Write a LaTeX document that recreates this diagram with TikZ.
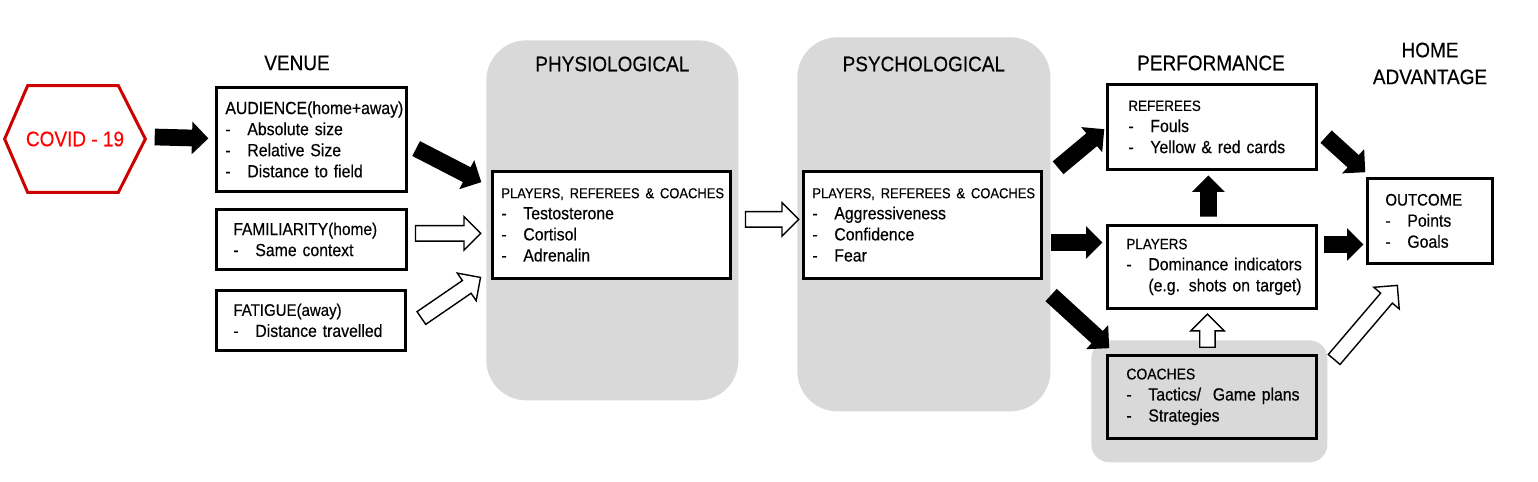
\documentclass[tikz,border=0pt]{standalone}
\usepackage{fontspec}
\setmainfont{Liberation Sans}[FakeStretch=0.9,FakeBold=0.35]
\usetikzlibrary{arrows.meta,calc,positioning,shapes.arrows}

\definecolor{panelgray}{HTML}{D9D9D9}
\definecolor{virusred}{HTML}{CC0000}
\def\pxu{0.02cm}
% list line and small box title
\newcommand\li[1]{\\\mbox{\makebox[12.5pt][l]{-}#1}}
\newcommand\ttl[2][8.5]{\mbox{\fontsize{#1}{12}\selectfont #2}}
% block arrow from tail #2 to tip #3
\newcommand\fatarrow[3]{%
 \path let \p1=#2,\p2=#3,\n1={atan2(\y2-\y1,\x2-\x1)},\n2={veclen(\x2-\x1,\y2-\y1)} in
  node[#1,rotate=\n1,minimum height=\n2] at (\p1) {};}

\begin{document}
\begin{tikzpicture}[x=\pxu,y=-\pxu,
 stage/.style={draw,line width=1.6pt,fill=white,anchor=north west,align=left,inner ysep=0pt,font=\fontsize{10}{12}\selectfont},
 panel/.style={fill=panelgray,anchor=north west,inner sep=0pt,rounded corners=.8cm},
 heading/.style={align=center,font=\fontsize{12}{15.3}\selectfont},
 blackarrow/.style={single arrow,fill=black,anchor=tail,inner xsep=0pt,inner ysep=8*\pxu,single arrow head extend=8*\pxu},
 whitearrow/.style={blackarrow,fill=white,draw,line width=.8pt,inner ysep=7*\pxu,single arrow head extend=9*\pxu}]
\useasboundingbox (0,0) rectangle (1538,482);

% trigger
\node[minimum width=140*\pxu,minimum height=106*\pxu,text=red,font=\fontsize{12}{14}\selectfont] (covid) at (75,139) {COVID - 19};
\draw[virusred,line width=1.7pt] (covid.west) -- ($(covid.north west)+(23,0)$) -- ($(covid.north east)+(-27,0)$)
 -- (covid.east) -- ($(covid.south east)+(-27,0)$) -- ($(covid.south west)+(23,0)$) -- cycle;

% venue
\node[heading] (venuehd) at (297,63) {VENUE};
\node[stage,text width=172*\pxu,inner xsep=9*\pxu,minimum height=104*\pxu] (aud) at (215,86)
 {\ttl[10]{AUDIENCE(home+away)}\li{Absolute size}\li{Relative Size}\li{Distance to field}};
\node[stage,text width=156*\pxu,inner xsep=17*\pxu,minimum height=60*\pxu] (fam) at (215,208)
 {\ttl[9.8]{FAMILIARITY(home)}\li{Same context}};
\node[stage,text width=155*\pxu,inner xsep=17*\pxu,minimum height=60*\pxu] (fat) at (215,289)
 {\ttl[9.5]{FATIGUE(away)}\li{Distance travelled}};

% mechanisms
\node[panel,minimum width=252*\pxu,minimum height=360*\pxu] (physpanel) at (486,40) {};
\node[heading] (physhd) at ($(physpanel.north)+(0,24)$) {PHYSIOLOGICAL};
\node[stage,text width=220*\pxu,inner xsep=9*\pxu,minimum height=107*\pxu] (phys) at (491,170)
 {\ttl[8.2]{PLAYERS, REFEREES \& COACHES}\li{Testosterone}\li{Cortisol}\li{Adrenalin}};

\node[panel,minimum width=253*\pxu,minimum height=374*\pxu] (psychpanel) at (797,37) {};
\node[heading] (psychhd) at ($(psychpanel.north)+(0,27)$) {PSYCHOLOGICAL};
\node[stage,text width=220*\pxu,inner xsep=9*\pxu,minimum height=107*\pxu] (psych) at (802,170)
 {\ttl[8.2]{PLAYERS, REFEREES \& COACHES}\li{Aggressiveness}\li{Confidence}\li{Fear}};

% performance
\node[heading] (perfhd) at (1211,63) {PERFORMANCE};
\node[stage,text width=167*\pxu,inner xsep=21*\pxu,minimum height=85*\pxu] (ref) at (1106,83)
 {\ttl{REFEREES}\li{Fouls}\li{Yellow \& red cards}};
\node[stage,text width=171*\pxu,inner xsep=19*\pxu,minimum height=83*\pxu] (ply) at (1106,224)
 {\ttl{PLAYERS}\li{Dominance indicators}\\\mbox{\hspace*{12.5pt}(e.g. shots on target)}};
\node[panel,rounded corners=.36cm,minimum width=236*\pxu,minimum height=122*\pxu] (coachpanel) at (1091,340) {};
\node[stage,fill=panelgray,text width=171*\pxu,inner xsep=19*\pxu,minimum height=83*\pxu] (coach) at (1106,354)
 {\ttl[8.8]{COACHES}\li{Tactics/\ \ Game plans}\li{Strategies}};

% outcome
\node[heading] (homehd) at (1430,63.5) {HOME\\ADVANTAGE};
\node[stage,text width=89*\pxu,inner xsep=18*\pxu,minimum height=85*\pxu] (out) at (1366,177)
 {\ttl[9.5]{OUTCOME}\li{Points}\li{Goals}};

% arrows
\fatarrow{blackarrow}{($(covid.east)+(9,-2)$)}{($(aud.west)+(-7,-1)$)}
\fatarrow{blackarrow}{($(aud.east)+(8,9)$)}{($(phys.north west)+(-10,12)$)}
\fatarrow{whitearrow}{($(fam.east)+(7,-6)$)}{($(phys.west)+(-11,8.5)$)}
\fatarrow{whitearrow}{($(fat.east)+(14,-2)$)}{($(phys.south west)+(-11,-2)$)}
\fatarrow{whitearrow}{($(phys.east)+(13,-5.5)$)}{($(psych.west)+(-4,-5.5)$)}
\fatarrow{blackarrow}{($(psych.north east)+(15,-2)$)}{($(ref.west)+(-2,2.5)$)}
\fatarrow{blackarrow}{($(psych.east)+(8,17.5)$)}{($(ply.west)+(-4,-24.5)$)}
\fatarrow{blackarrow}{($(psych.south east)+(8,15)$)}{($(coach.north west)+(3,-6)$)}
\fatarrow{blackarrow}{($(ply.north)+(-3.5,-7)$)}{($(ref.south)+(-3.5,5)$)}
\fatarrow{whitearrow}{($(coach.north)+(-4.5,-6)$)}{($(ply.south)+(-4.5,5)$)}
\fatarrow{blackarrow}{($(ref.east)+(8,9.5)$)}{($(out.north west)+(-1,-5)$)}
\fatarrow{blackarrow}{($(ply.east)+(6,-22.5)$)}{($(out.west)+(-3,23.5)$)}
\fatarrow{whitearrow}{($(coachpanel.north east)+(6,20)$)}{($(out.south west)+(31,21)$)}
\end{tikzpicture}
\end{document}
